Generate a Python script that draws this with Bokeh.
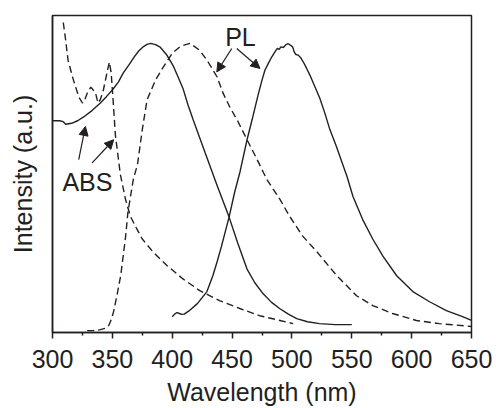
from bokeh.plotting import figure
from bokeh.models import Range1d, FixedTicker, Label, Arrow, NormalHead
from bokeh.embed import file_html
from bokeh.resources import INLINE

# ---------------- data ----------------
abs_solid_wl = [300, 306, 309, 311, 316, 321, 326, 333, 340, 345, 350, 355, 359, 364, 368, 372,
                376, 379, 382, 386, 390, 395, 401, 405, 409, 413, 417.5, 427.5, 437.5, 447.5,
                455, 462.5, 469, 476, 483, 490, 497, 504, 513, 523, 536, 550]
abs_solid_val = [0.668, 0.668, 0.665, 0.657, 0.660, 0.668, 0.680, 0.700, 0.724, 0.744, 0.765,
                 0.790, 0.818, 0.845, 0.868, 0.888, 0.902, 0.909, 0.912, 0.908, 0.900, 0.878,
                 0.840, 0.805, 0.770, 0.720, 0.671, 0.567, 0.464, 0.364, 0.279, 0.200, 0.157,
                 0.122, 0.095, 0.075, 0.058, 0.044, 0.034, 0.028, 0.025, 0.025]

pl_solid_wl = [400, 402, 404, 406, 408, 410, 414, 421, 429, 434, 437.5, 441, 447.5, 452, 456.7,
               462.5, 466.7, 471.7, 475, 477.5, 480.3, 483.1, 485.8, 487.8, 489.4, 490.8, 492.8,
               495, 496.9, 498.9, 500.6, 501.9, 503.3, 505.3, 507.3, 509.4, 512.3, 515, 519.2,
               523.3, 527.5, 531.7, 537, 546, 551, 559, 567.5, 576, 587.5, 601, 615, 629, 642.5, 650]
pl_solid_val = [0.050, 0.058, 0.063, 0.060, 0.057, 0.058, 0.068, 0.091, 0.129, 0.180, 0.223,
                0.270, 0.364, 0.440, 0.508, 0.608, 0.671, 0.749, 0.796, 0.828, 0.849, 0.869,
                0.885, 0.896, 0.893, 0.901, 0.899, 0.908, 0.911, 0.906, 0.901, 0.885, 0.877,
                0.875, 0.867, 0.854, 0.833, 0.812, 0.775, 0.739, 0.692, 0.640, 0.588, 0.492,
                0.429, 0.357, 0.295, 0.241, 0.179, 0.129, 0.097, 0.069, 0.050, 0.038]

abs_dash_wl = [309, 311, 313, 317.5, 322, 325, 327, 329, 332, 334, 336, 338, 340, 342.5, 345,
               346, 347.5, 349, 350.5, 352.5, 356.7, 361, 365, 370, 375, 384, 396, 409, 423,
               440, 457, 473, 490, 501]
abs_dash_val = [0.978, 0.922, 0.859, 0.796, 0.743, 0.724, 0.735, 0.755, 0.774, 0.765, 0.755,
                0.724, 0.735, 0.765, 0.810, 0.828, 0.853, 0.820, 0.740, 0.624, 0.498, 0.420,
                0.367, 0.330, 0.295, 0.254, 0.210, 0.169, 0.132, 0.100, 0.075, 0.053, 0.038, 0.028]

pl_dash_wl = [329, 334, 340, 344, 347, 349, 351, 354, 357, 361, 363, 367.5, 371, 375, 379, 386,
              392.5, 400, 407, 415, 423, 429, 434, 437.5, 442.5, 448, 455, 462.5, 471, 479, 490,
              498, 509, 521, 537.5, 554, 567.5, 584, 604, 623, 650]
pl_dash_val = [0.006, 0.006, 0.009, 0.013, 0.022, 0.040, 0.065, 0.120, 0.180, 0.300, 0.379,
               0.483, 0.530, 0.640, 0.734, 0.796, 0.837, 0.881, 0.903, 0.912, 0.890, 0.859,
               0.828, 0.806, 0.755, 0.712, 0.665, 0.608, 0.545, 0.483, 0.420, 0.367, 0.304,
               0.254, 0.179, 0.116, 0.085, 0.060, 0.038, 0.028, 0.019]

x_ticks = [300, 350, 400, 450, 500, 550, 600, 650]
x_minor = [325, 375, 425, 475, 525, 575, 625]

# ---------------- styling ----------------
INK = "#231f20"
FONT = "Liberation Sans"

p = figure(width=496, height=408, output_backend="svg", toolbar_location=None,
           x_range=Range1d(300, 650), y_range=Range1d(0, 1),
           min_border_left=52, min_border_right=25, min_border_top=15, min_border_bottom=74)
p.background_fill_color = "white"
p.border_fill_color = "white"
p.grid.visible = False
p.outline_line_color = INK
p.outline_line_width = 1.5

xa = p.xaxis[0]
xa.ticker = FixedTicker(ticks=x_ticks, minor_ticks=x_minor)
xa.axis_line_color = INK
xa.axis_line_width = 1.5
xa.major_tick_line_color = INK
xa.major_tick_line_width = 1.5
xa.minor_tick_line_color = INK
xa.minor_tick_line_width = 1.5
xa.major_tick_in = 0
xa.major_tick_out = 6
xa.minor_tick_in = 0
xa.minor_tick_out = 3
xa.major_label_standoff = 11
xa.major_label_text_font = FONT
xa.major_label_text_font_size = "25px"
xa.major_label_text_color = INK
xa.axis_label = "Wavelength (nm)"
xa.axis_label_text_font = FONT
xa.axis_label_text_font_size = "25px"
xa.axis_label_text_font_style = "normal"
xa.axis_label_text_color = INK
xa.axis_label_standoff = 7

ya = p.yaxis[0]
ya.ticker = FixedTicker(ticks=[], minor_ticks=[])
ya.major_tick_out = 0
ya.major_tick_in = 0
ya.minor_tick_out = 0
ya.minor_tick_in = 0
ya.axis_line_color = INK
ya.axis_line_width = 1.5
ya.axis_label = "Intensity (a.u.)"
ya.axis_label_text_font = FONT
ya.axis_label_text_font_size = "25px"
ya.axis_label_text_font_style = "normal"
ya.axis_label_text_color = INK
ya.axis_label_standoff = 16

# curves
p.line(abs_solid_wl, abs_solid_val, line_color=INK, line_width=1.4)
p.line(pl_solid_wl, pl_solid_val, line_color=INK, line_width=1.4)
p.line(abs_dash_wl, abs_dash_val, line_color=INK, line_width=1.4, line_dash="7 4")
p.line(pl_dash_wl, pl_dash_val, line_color=INK, line_width=1.4, line_dash="7 4")

# annotations
p.add_layout(Label(x=444.2, y=0.931, text="PL", text_align="left", text_baseline="alphabetic",
                   text_font=FONT, text_font_size="25px", text_color=INK))
p.add_layout(Label(x=308.3, y=0.476, text="ABS", text_align="left", text_baseline="alphabetic",
                   text_font=FONT, text_font_size="25px", text_color=INK))

arrows = [
    (449.75, 0.896, 437.25, 0.822),
    (453.9, 0.896, 473.3, 0.833),
    (321.9, 0.545, 327.5, 0.650),
    (333.1, 0.535, 351.1, 0.608),
]
for xs, ys, xe, ye in arrows:
    p.add_layout(Arrow(end=NormalHead(size=9, fill_color=INK, line_color=INK, line_width=1),
                       x_start=xs, y_start=ys, x_end=xe, y_end=ye,
                       line_color=INK, line_width=1.2))

open("out.html", "w").write(file_html(p, INLINE))
